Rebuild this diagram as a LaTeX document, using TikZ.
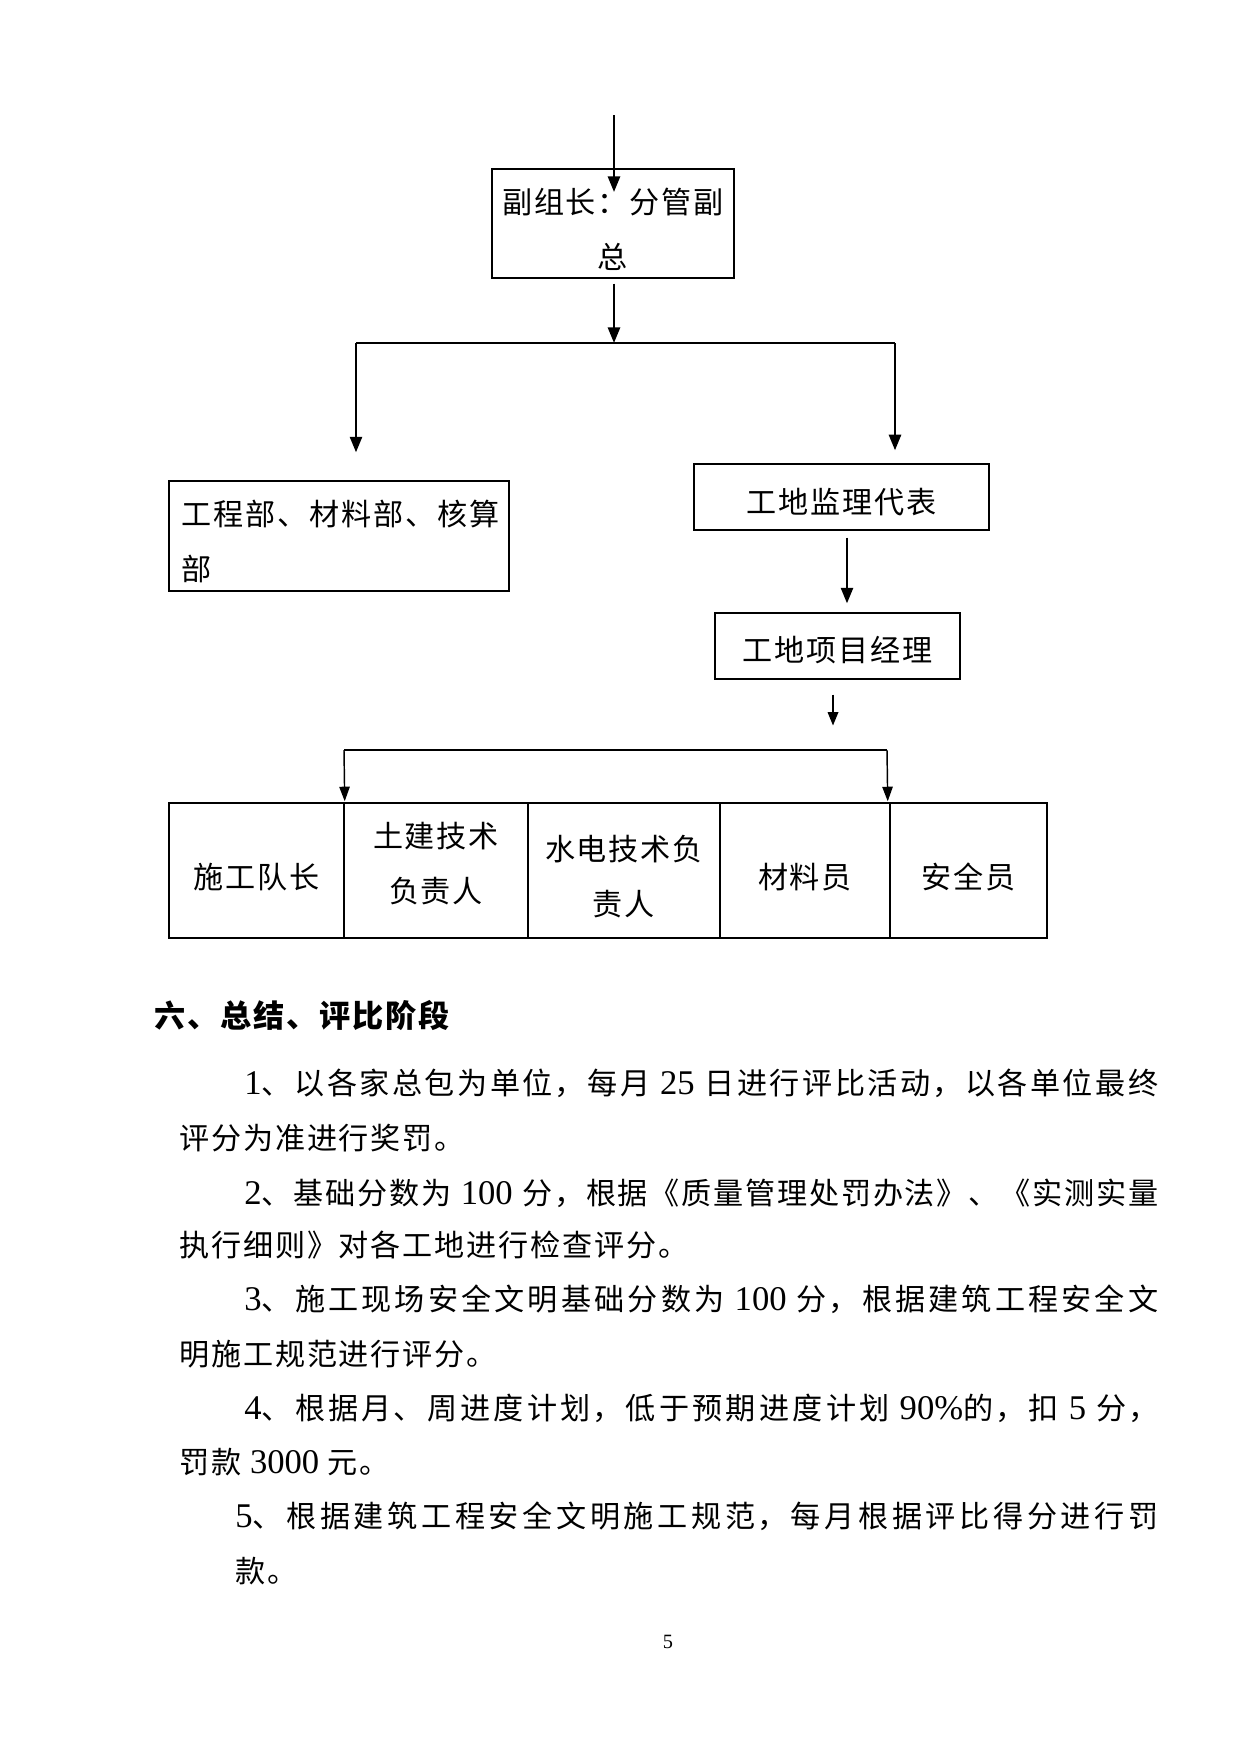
\documentclass[tikz,border=0pt]{standalone}
\usepackage{fontspec}
\setmainfont{Noto Sans CJK SC}[LetterSpace=6]
\newfontfamily\latin{Liberation Serif}[Scale=1.15]
\XeTeXlinebreaklocale "zh"
\XeTeXlinebreakskip=0pt plus 4pt minus 1pt
\usetikzlibrary{arrows.meta,positioning,calc}
\newcommand{\pxu}{0.4815pt}
\newdimen\pxlen \pxlen=0.4815pt
\newcommand{\digits}[1]{{\latin #1}}
\newcommand{\fullline}[2]{\parbox[t]{#1\pxlen}{\parindent=0pt\parfillskip=0pt\tolerance=9999 #2}}
\tikzset{
  orgbox/.style={draw,line width=0.6pt,inner sep=0pt,align=center},
  boxtext/.style={align=center,inner sep=0pt},
  rowcell/.style={draw,line width=0.7pt,inner sep=0pt,minimum height=135*\pxu},
  bigarrow/.style={line width=1.2pt,-{Triangle[length=7.5pt,width=5.8pt]}},
  thinarrow/.style={line width=0.7pt,-{Triangle[length=7pt,width=5pt]}},
  bodyline/.style={anchor=base west,inner sep=0pt}
}

\begin{document}
\begin{tikzpicture}[x=0.4815pt,y=-0.4815pt,font=\fontsize{14.5}{26.5}\selectfont]
  \useasboundingbox (0,0) rectangle (1241,1754);
  % upper chart
  \node[orgbox,minimum width=242*\pxu,minimum height=109*\pxu,
    label={[boxtext,yshift=-6*\pxu]center:副组长：分管副\\总}] (leader) at (613,223.5) {};
  \coordinate (from) at (614,115);
  \coordinate (fromtip) at (614,192);
  \draw[bigarrow] (from) -- (fromtip);
  \coordinate (busL) at (356,343);
  \coordinate (busM) at (614,343);
  \coordinate (busR) at (895,343);
  \draw[line width=1pt] (busL) -- (busR);
  \draw[bigarrow] ([yshift=-2.4pt]leader.south -| busM) -- (busM);
  \node[orgbox,minimum width=340*\pxu,minimum height=110*\pxu,
    label={[boxtext,align=left,anchor=west,xshift=13*\pxu,yshift=-5.5*\pxu]west:工程部、材料部、核算\\部}] (depts) at (339,536) {};
  \node[orgbox,minimum width=295*\pxu,minimum height=66*\pxu,
    label={[boxtext,yshift=-5.5*\pxu]center:工地监理代表}] (supervisor) at (841.5,497) {};
  \node[orgbox,minimum width=245*\pxu,minimum height=66*\pxu,
    label={[boxtext,yshift=-4.5*\pxu]center:工地项目经理}] (manager) at (837.5,646) {};
  \draw[bigarrow] (busL) -- ([yshift=13.5pt]depts.north -| busL);
  \draw[bigarrow] (busR) -- ([yshift=6.3pt]supervisor.north -| busR);
  \draw[bigarrow] ([shift={(5.5,7)}]supervisor.south) -- ([shift={(9.5,-9)}]manager.north);
  \draw[line width=1pt,-{Triangle[length=6.5pt,width=5pt]}] ([shift={(-4.5,15)}]manager.south) -- ++(0,31);
  % lower row
  \foreach \name/\x/\w/\dy/\txt in {crew/256.5/175/-6.5/施工队长, civil/436/184/6.5/土建技术\\负责人, mep/624/192/-6.5/水电技术负\\责人, material/805/170/-6.5/材料员, safety/968.5/157/-6.5/安全员}
    \node[rowcell,minimum width=\w*\pxu,label={[boxtext,yshift=\dy*\pxu]center:\txt}] (\name) at (\x,870.5) {};
  \coordinate (rowL) at (344,750);
  \coordinate (rowR) at (887,750);
  \draw[line width=0.7pt] (rowL) -- (rowR);
  \draw[thinarrow] (rowL) -- ([yshift=0.5pt]crew.north east);
  \draw[thinarrow] (rowR) -- ([shift={(-3,-1)}]material.north east);
  % text
  \node[bodyline,font=\fontsize{15}{18}\selectfont\bfseries] (stage) at (154,1027) {六、总结、评比阶段};
  \foreach \name/\x/\y/\txt in {
    p1a/244/1094/\fullline{914}{\digits{1}、以各家总包为单位，每月 \digits{25} 日进行评比活动，以各单位最终},
    p1b/179/1149/评分为准进行奖罚。,
    p2a/244/1204/\fullline{914}{\digits{2}、基础分数为 \digits{100} 分，根据《质量管理处罚办法》、《实测实量},
    p2b/179/1256/执行细则》对各工地进行检查评分。,
    p3a/244/1310/\fullline{914}{\digits{3}、施工现场安全文明基础分数为 \digits{100} 分，根据建筑工程安全文},
    p3b/179/1365/明施工规范进行评分。,
    p4a/244/1419/\fullline{914}{\digits{4}、根据月、周进度计划，低于预期进度计划 \digits{90\%}的，扣 \digits{5} 分，},
    p4b/179/1473/罚款 \digits{3000} 元。,
    p5a/235/1527/\fullline{923}{\digits{5}、根据建筑工程安全文明施工规范，每月根据评比得分进行罚},
    p5b/235/1582/款。}
    \node[bodyline] (\name) at (\x,\y) {\txt};
  \node[font=\latin\fontsize{8.5}{10}\selectfont] (pageno) at (668,1642) {5};
\end{tikzpicture}
\end{document}
